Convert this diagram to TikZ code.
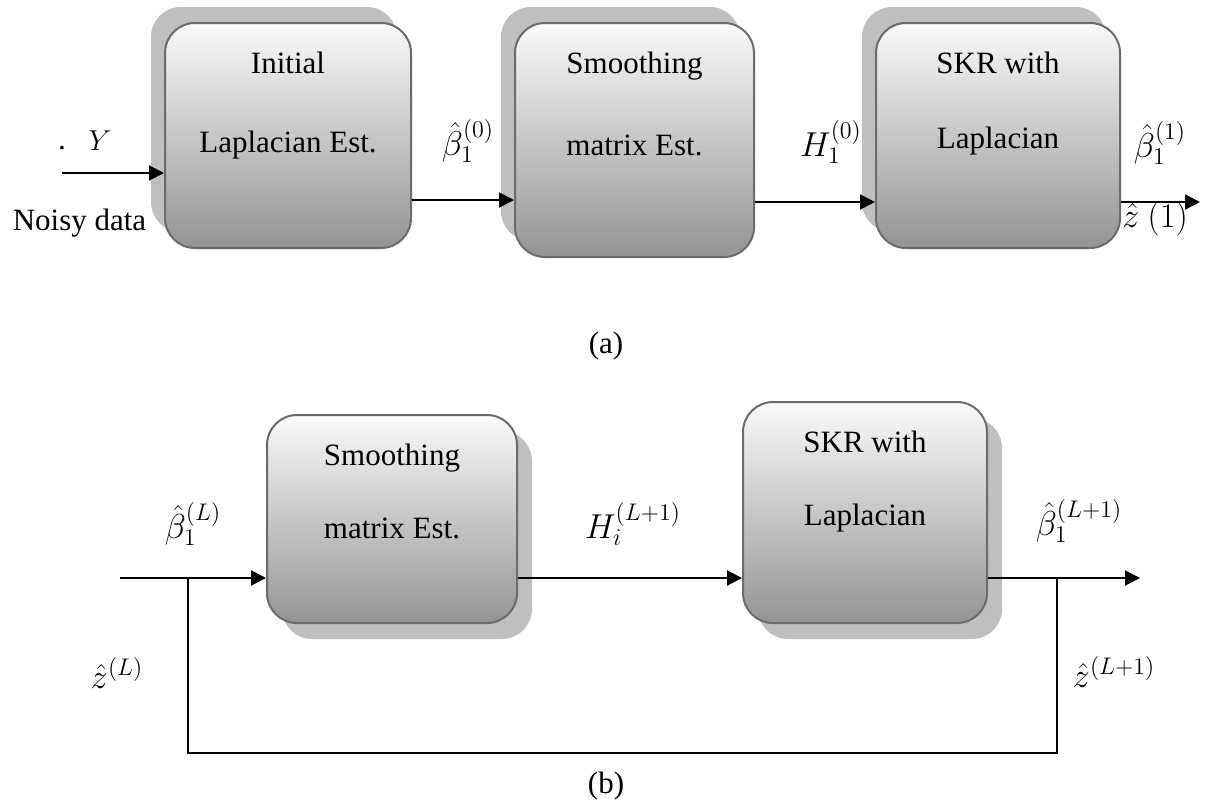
\documentclass[tikz,border=0pt]{standalone}
\usepackage{fontspec}
\setmainfont{Liberation Serif}
\usetikzlibrary{shadows,arrows.meta,calc}
\begin{document}
\begin{tikzpicture}[x=0.5pt,y=-0.5pt,
  blk/.style={draw=black!58, line width=1pt, rounded corners=15pt, top color=black!2, bottom color=black!42, inner sep=0pt},
  shtl/.style={general shadow={fill=black!25, shadow xshift=-7pt, shadow yshift=8pt}},
  shbr/.style={general shadow={fill=black!25, shadow xshift=7.5pt, shadow yshift=-8pt}},
  txt/.style={font=\fontsize{15.5}{18}\selectfont, anchor=base, inner sep=0pt},
  lbl/.style={font=\fontsize{16.5}{19}\selectfont, inner sep=0pt},
  arr/.style={line width=1pt, -{Triangle[length=7.5pt,width=7.5pt]}},
  fb/.style={line width=0.7pt}]
\useasboundingbox (0,0) rectangle (1213,804);

% top row boxes
\node[blk,shtl,minimum width=123pt,minimum height=112.5pt] (b1) at (288,135.5) {};
\node[blk,shtl,minimum width=119.5pt,minimum height=117pt] (b2) at (634.5,140) {};
\node[blk,shtl,minimum width=122pt,minimum height=112.5pt] (b3) at (998,135.5) {};
% bottom row boxes
\node[blk,shbr,minimum width=125pt,minimum height=104pt] (b4) at (392,519) {};
\node[blk,shbr,minimum width=122pt,minimum height=110.5pt] (b5) at (865,512.5) {};

% box texts
\node[txt] (t1a) at (288,73) {Initial};
\node[txt] (t1b) at (288,152) {Laplacian Est.};
\node[txt] (t2a) at (634.5,73) {Smoothing};
\node[txt] (t2b) at (634.5,155) {matrix Est.};
\node[txt] (t3a) at (998,73) {SKR with};
\node[txt] (t3b) at (998,148) {Laplacian};
\node[txt] (t4a) at (392,465) {Smoothing};
\node[txt] (t4b) at (392,538) {matrix Est.};
\node[txt] (t5a) at (865,452) {SKR with};
\node[txt] (t5b) at (865,525) {Laplacian};

% top labels
\node[txt] (dot) at (62,149) {.};
\node[txt] (y) at (100,150) {$Y$};
\node[txt] (noisy) at (79.5,230) {Noisy data};
\node[lbl] (beta0) at (468,141) {$\hat{\beta}_1^{(0)}$};
\node[lbl] (h0) at (831,142) {$H_1^{(0)}$};
\node[lbl] (beta1) at (1160,143) {$\hat{\beta}_1^{(1)}$};
\node[lbl] (z1) at (1155,219) {$\hat{z}\ (1)$};
\node[txt] (capa) at (606,353) {(a)};

% bottom labels
\node[lbl] (betaL) at (193,524) {$\hat{\beta}_1^{(L)}$};
\node[lbl] (hL) at (633,524) {$H_i^{(L+1)}$};
\node[lbl] (betaL1) at (1079,521) {$\hat{\beta}_1^{(L+1)}$};
\node[lbl] (zL) at (117,673) {$\hat{z}^{(L)}$};
\node[lbl] (zL1) at (1114,672) {$\hat{z}^{(L+1)}$};
\node[txt] (capb) at (606,793) {(b)};

% top connectors
\coordinate (in) at (62,173);
\coordinate (y12) at (0,200);
\coordinate (y23) at (0,202);
\coordinate (out1) at (1200,202);
\draw[arr] (in) -- (in -| b1.west);
\draw[arr] (b1.east |- y12) -- (b2.west |- y12);
\draw[arr] (b2.east |- y23) -- (b3.west |- y23);
\draw[arr] (b3.east |- out1) -- (out1);

% bottom connectors
\coordinate (in2) at (120,578);
\coordinate (j1) at (188,578);
\coordinate (j2) at (1057,578);
\coordinate (out2) at (1140,578);
\coordinate (c1) at (188,753);
\coordinate (c2) at (1057,753);
\draw[arr] (in2) -- (in2 -| b4.west);
\draw[arr] (b4.east |- in2) -- (b5.west |- in2);
\draw[arr] (b5.east |- in2) -- (out2);
\draw[fb] (j1) -- (c1) -- (c2) -- (j2);
\end{tikzpicture}
\end{document}
